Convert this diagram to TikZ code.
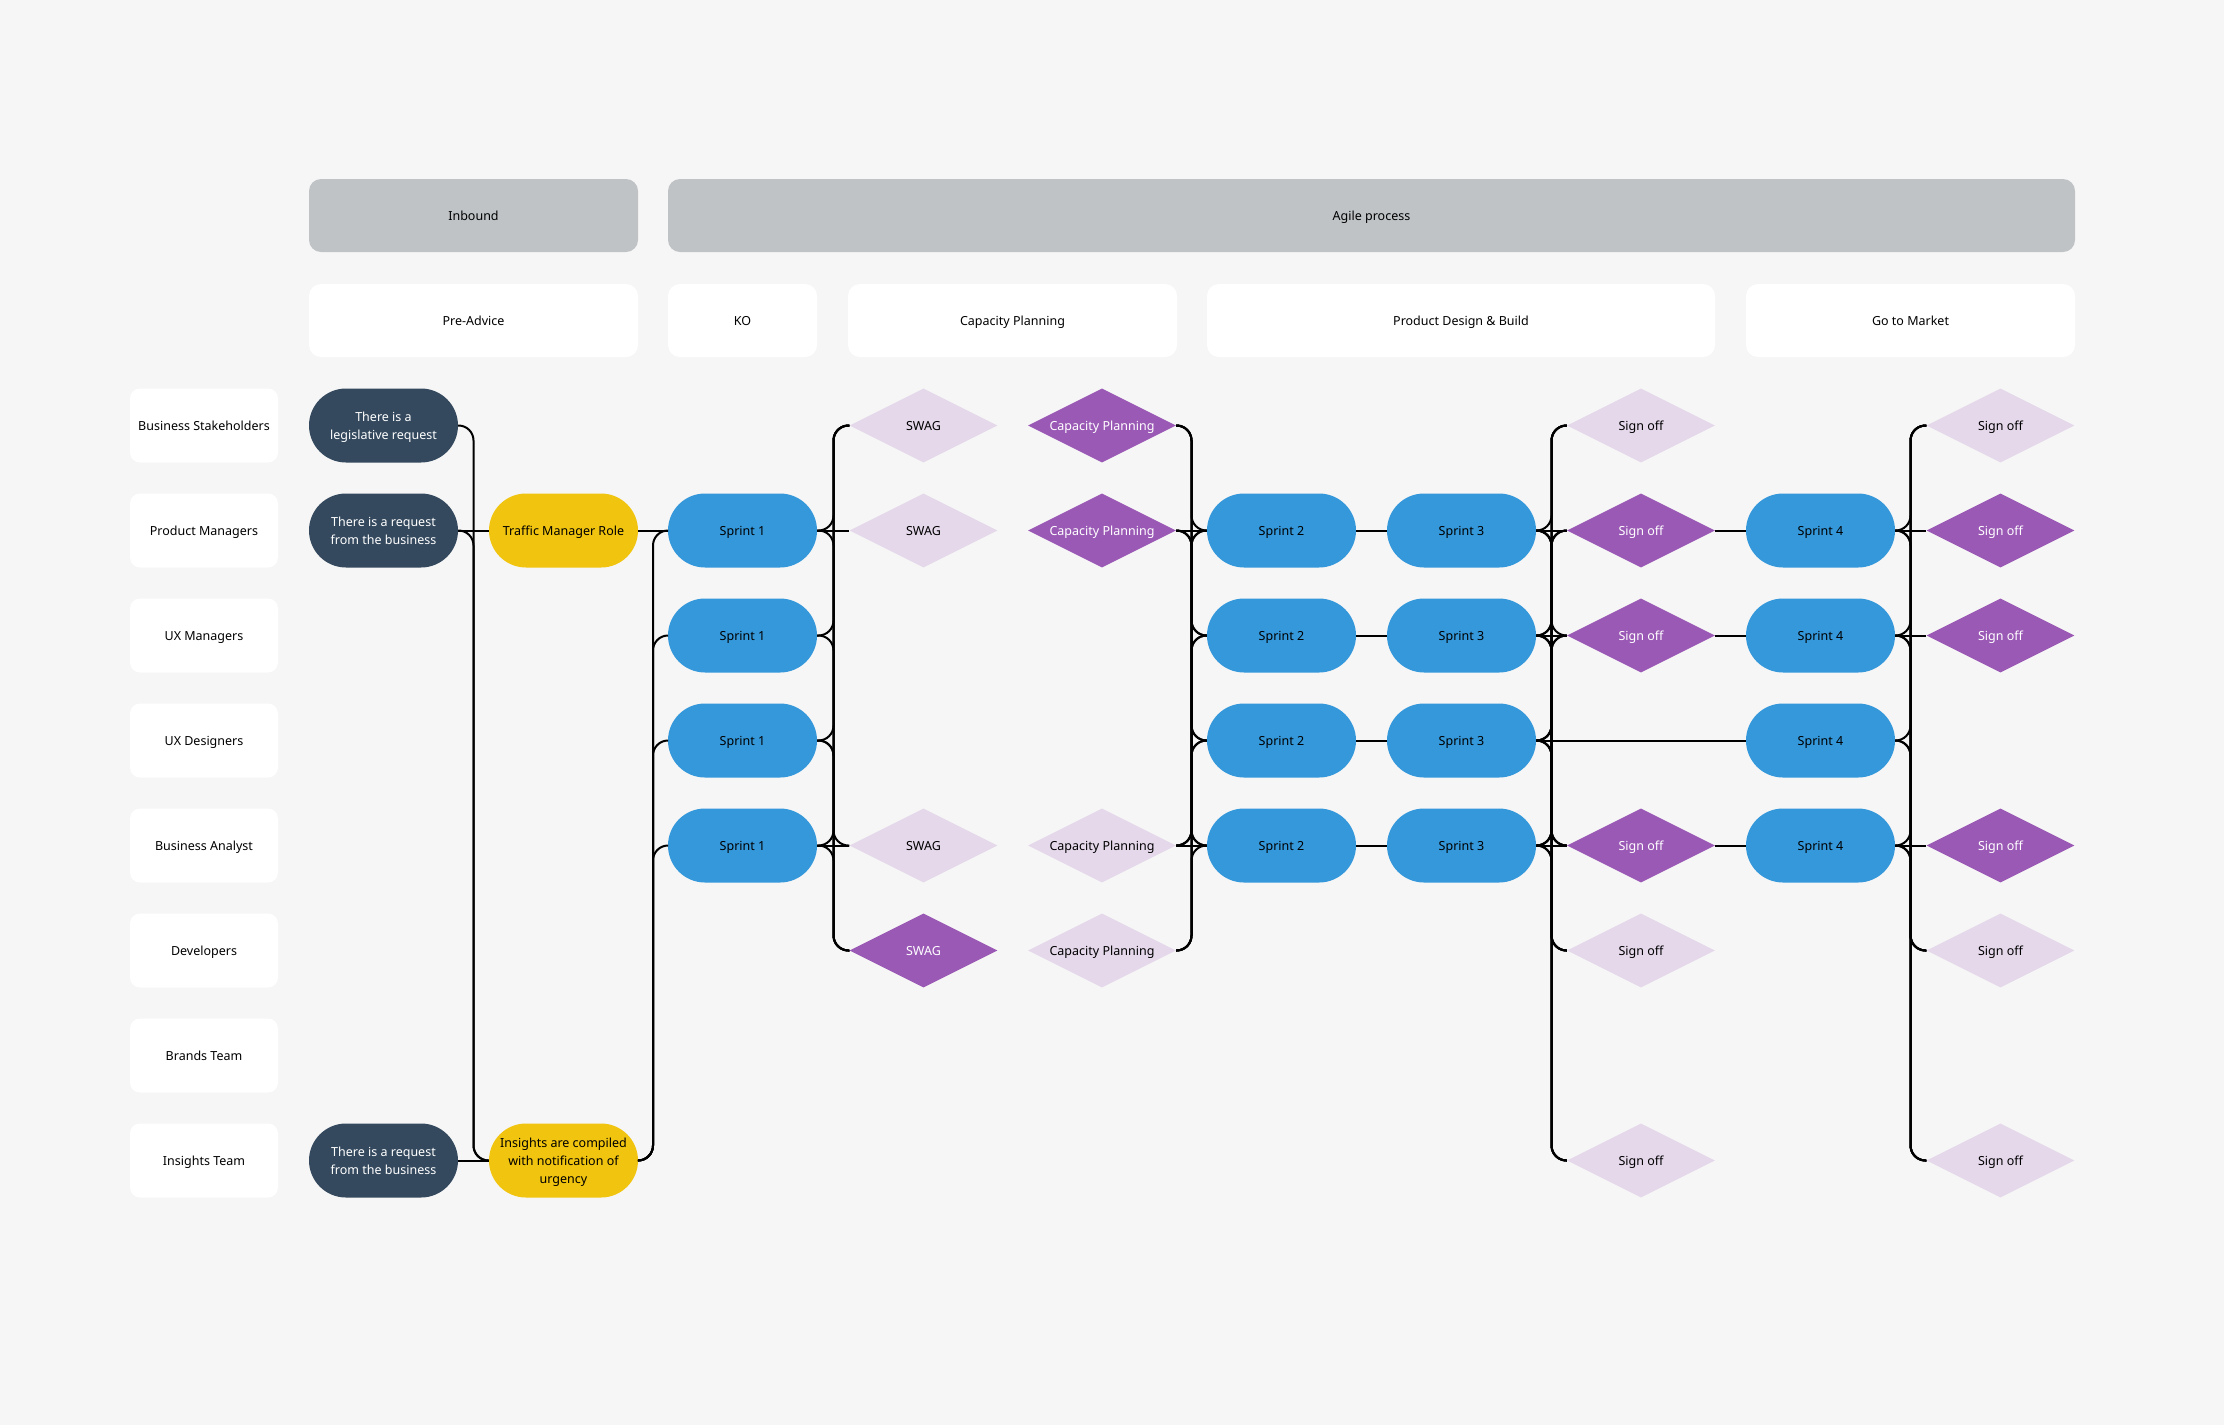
\documentclass[tikz,border=0pt]{standalone}
\usepackage{fontspec}
\setmainfont{Noto Sans}
\usetikzlibrary{shapes.geometric}
\definecolor{bgc}{HTML}{F6F6F6}
\definecolor{hdrgray}{HTML}{BFC3C6}
\definecolor{darkblue}{HTML}{34495E}
\definecolor{yel}{HTML}{F1C40F}
\definecolor{blu}{HTML}{3498DB}
\definecolor{purp}{HTML}{9B59B6}
\definecolor{lpurp}{HTML}{E5D8EB}
\tikzset{
 oneline/.style={text height=9pt, text depth=0pt},
 lane/.style={oneline, fill=white, rounded corners=10pt, minimum width=148pt, minimum height=74pt, inner sep=0pt, text=black},
 hdr/.style={oneline, fill=hdrgray, rounded corners=12pt, minimum height=73pt, inner sep=0pt, text=black},
 subhdr/.style={oneline, fill=white, rounded corners=12pt, minimum height=73pt, inner sep=0pt, text=black},
 pill/.style={rounded corners=37pt, minimum width=149pt, minimum height=74pt, inner sep=0pt, align=center},
 multi/.style={text depth=0pt},
 darkpill/.style={pill, multi, fill=darkblue, text=white},
 yelpill/.style={pill, fill=yel, text=black},
 sprint/.style={pill, oneline, fill=blu, text=black},
 dia/.style={diamond, aspect=2, minimum width=148pt, minimum height=74pt, inner sep=0pt, align=center, oneline},
 diaP/.style={dia, fill=purp, text=white},
 diaL/.style={dia, fill=lpurp, text=black},
 conn/.style={draw=black, line width=2pt, rounded corners=15pt},
 straight/.style={draw=black, line width=2pt},
}
\begin{document}
\begin{tikzpicture}[x=1pt,y=-1pt,font=\fontsize{12.5}{18}\selectfont]
\useasboundingbox (0,0) rectangle (2224,1425);
\fill[bgc] (0,0) rectangle (2224,1425);

% headers
\node[hdr, minimum width=329pt] (inb) at (473.5,215.5) {Inbound};
\node[hdr, minimum width=1407pt] (agile) at (1371.5,215.5) {Agile process};
\node[subhdr, minimum width=329pt] (pre) at (473.5,320.5) {Pre-Advice};
\node[subhdr, minimum width=149pt] (ko) at (742.5,320.5) {KO};
\node[subhdr, minimum width=329pt] (capp) at (1012.5,320.5) {Capacity Planning};
\node[subhdr, minimum width=508pt] (pdb) at (1461,320.5) {Product Design \& Build};
\node[subhdr, minimum width=329pt] (gtm) at (1910.5,320.5) {Go to Market};

% lanes
\node[lane] (l1) at (204,425.5) {Business Stakeholders};
\node[lane] (l2) at (204,530.5) {Product Managers};
\node[lane] (l3) at (204,635.5) {UX Managers};
\node[lane] (l4) at (204,740.5) {UX Designers};
\node[lane] (l5) at (204,845.5) {Business Analyst};
\node[lane] (l6) at (204,950.5) {Developers};
\node[lane] (l7) at (204,1055.5) {Brands Team};
\node[lane] (l8) at (204,1160.5) {Insights Team};

% column 0 and 1
\node[darkpill] (dk1) at (383.5,425.5) {There is a\\legislative request};
\node[darkpill] (dk2) at (383.5,530.5) {There is a request\\from the business};
\node[darkpill] (dk8) at (383.5,1160.5) {There is a request\\from the business};
\node[yelpill, oneline] (yl2) at (563.5,530.5) {Traffic Manager Role};
\node[yelpill, multi] (yl8) at (563.5,1160.5) {Insights are compiled\\with notification of\\urgency};

% sprints
\foreach \r in {2,...,5} {
 \node[sprint] (sA\r) at (742.5,{425.5+105*(\r-1)}) {Sprint 1};
 \node[sprint] (sB\r) at (1281.5,{425.5+105*(\r-1)}) {Sprint 2};
 \node[sprint] (sC\r) at (1461.5,{425.5+105*(\r-1)}) {Sprint 3};
 \node[sprint] (sD\r) at (1820.5,{425.5+105*(\r-1)}) {Sprint 4};
}

% SWAG
\node[diaL] (sw1) at (923.5,425.5) {SWAG};
\node[diaL] (sw2) at (923.5,530.5) {SWAG};
\node[diaL] (sw5) at (923.5,845.5) {SWAG};
\node[diaP] (sw6) at (923.5,950.5) {SWAG};
% Capacity planning
\node[diaP] (cp1) at (1102,425.5) {Capacity Planning};
\node[diaP] (cp2) at (1102,530.5) {Capacity Planning};
\node[diaL] (cp5) at (1102,845.5) {Capacity Planning};
\node[diaL] (cp6) at (1102,950.5) {Capacity Planning};
% sign offs
\foreach \c/\nm in {1641/soA,2000.5/soB} {
 \node[diaL] (\nm1) at (\c,425.5) {Sign off};
 \node[diaP] (\nm2) at (\c,530.5) {Sign off};
 \node[diaP] (\nm3) at (\c,635.5) {Sign off};
 \node[diaP] (\nm5) at (\c,845.5) {Sign off};
 \node[diaL] (\nm6) at (\c,950.5) {Sign off};
 \node[diaL] (\nm8) at (\c,1160.5) {Sign off};
}

% buses
\coordinate (busA) at (473.5,0);
\coordinate (busB) at (653,0);
\coordinate (busC) at (833.5,0);
\coordinate (busE) at (1191.5,0);
\coordinate (busG) at (1551.5,0);
\coordinate (busI) at (1910.5,0);

% group A
\foreach \a in {dk1,dk2}
 \draw[conn] (\a.east) -- (\a.east -| busA) -- (yl8.west -| busA) -- (yl8.west);
\draw[straight] (dk2.east) -- (yl2.west);
\draw[straight] (dk8.east) -- (yl8.west);

% group B
\foreach \b in {2,...,5}
 \draw[conn] (yl8.east) -- (yl8.east -| busB) -- (sA\b.west -| busB) -- (sA\b.west);
\draw[straight] (yl2.east) -- (sA2.west);

% group C
\foreach \a in {2,...,5}
 \foreach \b in {1,6}
  \draw[conn] (sA\a.east) -- (sA\a.east -| busC) -- (sw\b.west -| busC) -- (sw\b.west);
\draw[conn] (sA4.east) -- (sA4.east -| busC) -- (sw5.west -| busC) -- (sw5.west);
\draw[straight] (sA2.east) -- (sw2.west);
\draw[straight] (sA5.east) -- (sw5.west);

% group E
\foreach \a in {1,2,5,6}
 \foreach \b in {2,...,5} {
  \ifnum\a=\b\relax
   \draw[straight] (cp\a.east) -- (sB\b.west);
  \else
   \draw[conn] (cp\a.east) -- (cp\a.east -| busE) -- (sB\b.west -| busE) -- (sB\b.west);
  \fi
 }

% group F
\foreach \r in {2,...,5}
 \draw[straight] (sB\r.east) -- (sC\r.west);

% group G
\foreach \a in {2,...,5}
 \foreach \b in {1,2,3,5,6,8} {
  \ifnum\a=\b\relax
   \draw[straight] (sC\a.east) -- (soA\b.west);
  \else
   \draw[conn] (sC\a.east) -- (sC\a.east -| busG) -- (soA\b.west -| busG) -- (soA\b.west);
  \fi
 }
\draw[straight] (sC4.east) -- (sD4.west);

% group H
\foreach \r in {2,3,5}
 \draw[straight] (soA\r.east) -- (sD\r.west);

% group I
\foreach \a in {2,...,5}
 \foreach \b in {1,6,8}
  \draw[conn] (sD\a.east) -- (sD\a.east -| busI) -- (soB\b.west -| busI) -- (soB\b.west);
\foreach \r in {2,3,5}
 \draw[straight] (sD\r.east) -- (soB\r.west);
\end{tikzpicture}
\end{document}
